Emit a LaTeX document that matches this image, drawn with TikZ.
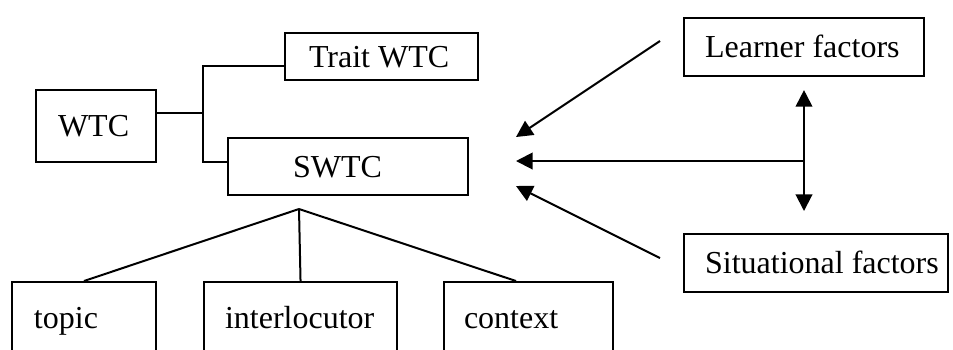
\documentclass[tikz,border=0pt]{standalone}
\usepackage{fontspec}
\setmainfont{Liberation Serif}
\usepackage{tikz}
\usetikzlibrary{arrows.meta}

\tikzset{
  wtcbox/.style n args={3}{draw, line width=0.75pt, inner sep=0pt,
    anchor=north west, text width=#1, minimum height=#2, align=flush left,
    text height=8pt, text depth=0pt, execute at begin node={\hspace*{#3}}},
  link/.style={line width=0.75pt},
  flow/.style={line width=0.75pt, ->},
}

\begin{document}
\begin{tikzpicture}[x=0.375pt, y=-0.375pt,
    >={Triangle[length=6.2pt, width=6.2pt]},
    font=\fontsize{12}{14}\selectfont]
      \useasboundingbox (0,0) rectangle (953,349);
      \clip (0,0) rectangle (953,349);

      % WTC and its two kinds
      \node[wtcbox={45pt}{27pt}{8.25pt}] (wtc) at (35,89) {WTC};
      \node[wtcbox={72.4pt}{17.6pt}{9pt}] (trait) at (284,32) {Trait WTC};
      \node[wtcbox={90pt}{21.4pt}{24.4pt}] (swtc) at (227,137) {SWTC};

      \coordinate (fork) at (203,113);
      \coordinate (forktop) at (203,66);
      \coordinate (forkbot) at (203,162);
      \draw[link] (fork -| wtc.east) -- (fork);
      \draw[link] (forktop -| trait.west) -- (forktop) -- (forkbot)
        -- (forkbot -| swtc.west);

      % factors
      \node[wtcbox={90pt}{21.75pt}{7.9pt}] (learner) at (683,17)
        {Learner factors};
      \node[wtcbox={99pt}{21.75pt}{7.9pt}] (situ) at (683,233)
        {Situational factors};

      \coordinate (hub) at (803,161);
      \coordinate (midhead) at (516,161);
      \coordinate (lrnfoot) at (660,41);
      \coordinate (lrnhead) at (516,137);
      \coordinate (sitfoot) at (660,258);
      \coordinate (sithead) at (516,186);

      \draw[flow, <->, shorten <=4.9pt, shorten >=8.25pt]
        (learner.south) -- (learner.south |- situ.north);
      \draw[flow] (hub) -- (midhead);
      \draw[flow] (lrnfoot) -- (lrnhead);
      \draw[flow] (sitfoot) -- (sithead);

      % situational variables
      \node[wtcbox={54pt}{27pt}{8.25pt}] (topic) at (11,281) {topic};
      \node[wtcbox={72.4pt}{27pt}{7.9pt}] (interloc) at (203,281)
        {interlocutor};
      \node[wtcbox={63.4pt}{27pt}{7.5pt}] (context) at (443,281) {context};

      \coordinate (apex) at (299,209);
      \draw[link] (apex) -- (topic.north);
      \draw[link] (apex) -- (interloc.north);
      \draw[link] (apex) -- ([xshift=-4.7pt]context.north);
    \end{tikzpicture}
\end{document}
